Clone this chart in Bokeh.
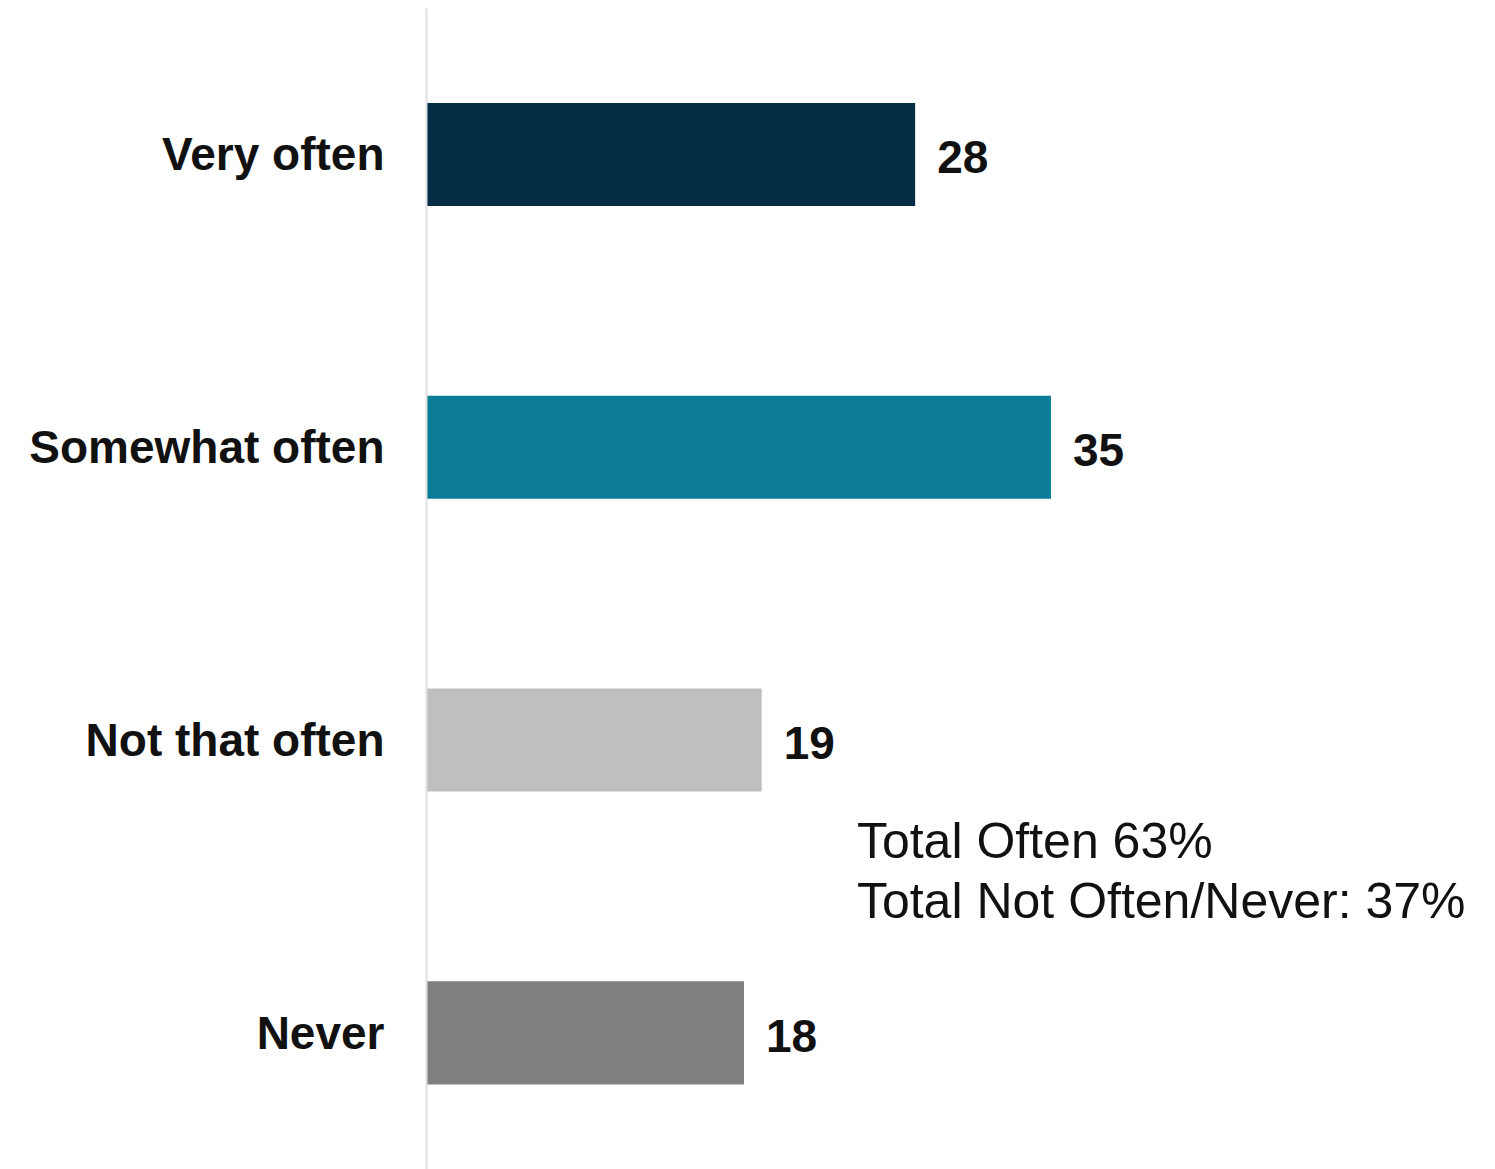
from bokeh.plotting import figure
from bokeh.models import Range1d, FixedTicker, ColumnDataSource, Label
from bokeh.embed import file_html
from bokeh.resources import INLINE

categories = ["Very often", "Somewhat often", "Not that often", "Never"]
values = [27.7, 35.4, 19.0, 18.0]
value_labels = ["28", "35", "19", "18"]
colors = ["#032d45", "#0b7c95", "#bfbfbf", "#7f7f7f"]
summary_lines = ["Total Often 63%", "Total Not Often/Never: 37%"]
summary_x = 24.4
summary_y = [1.654, 1.449]

positions = [len(categories) - i for i in range(len(categories))]

src = ColumnDataSource(dict(
    y=positions, v=values, lab=value_labels, color=colors,
))

p = figure(width=1495, height=1169, output_backend="svg", toolbar_location=None,
           x_range=Range1d(0, 60.6), y_range=Range1d(0.5334, 4.4986),
           x_axis_location=None, min_border_left=426, min_border_right=0,
           min_border_top=8, min_border_bottom=0)
p.outline_line_color = None
p.xgrid.grid_line_color = None
p.ygrid.grid_line_color = None
p.background_fill_color = "white"
p.border_fill_color = "white"

p.hbar(y="y", right="v", left=0, height=0.352, fill_color="color",
       line_color=None, source=src)
p.text(x="v", y="y", text="lab", source=src, x_offset=22, y_offset=3,
       text_font_size="46px", text_font_style="bold", text_color="#111111",
       text_baseline="middle", text_align="left", text_font={"value": "Liberation Sans"})

ya = p.yaxis[0]
ya.ticker = FixedTicker(ticks=positions)
ya.major_label_overrides = {pos: cat for pos, cat in zip(positions, categories)}
ya.major_label_text_font = "Liberation Sans"
ya.major_label_text_font_size = "46px"
ya.major_label_text_font_style = "bold"
ya.major_label_text_color = "#111111"
ya.major_label_standoff = 36
ya.major_tick_line_color = None
ya.minor_tick_line_color = None
ya.axis_line_color = "#e0e0e0"
ya.axis_line_width = 2

for line, yy in zip(summary_lines, summary_y):
    p.add_layout(Label(x=summary_x, y=yy, text=line, text_font="Liberation Sans",
                       text_font_size="50px", text_color="#111111",
                       text_baseline="middle", text_align="left"))

open("out.html", "w").write(file_html(p, INLINE))
